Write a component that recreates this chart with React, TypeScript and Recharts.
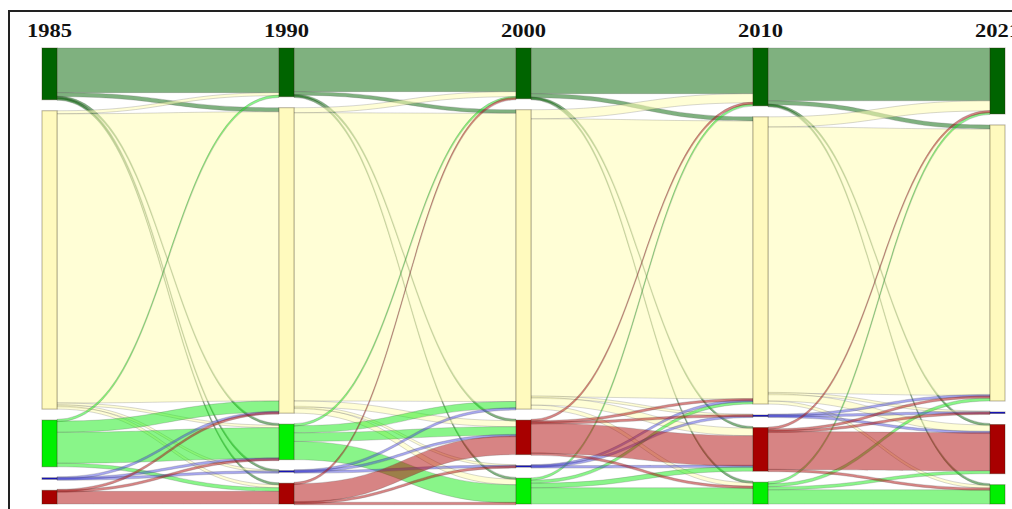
import React from 'react';
import { Sankey } from 'recharts';

// Survey years, one column each
const YEARS = ['1985', '1990', '2000', '2010', '2021'];

// Land-cover classes (row/column order of every transition table below)
const CLASSES = ['Forest', 'Grassland', 'Cropland', 'Water', 'Built-up'];

const NODE_FILL = ['#006400', '#fffabe', '#00f000', '#1414d8', '#a80000'];
const LINK_FILL = [
  'rgba(0,100,0,0.5)',
  'rgba(255,253,180,0.55)',
  'rgba(20,235,20,0.5)',
  'rgba(60,60,220,0.45)',
  'rgba(175,10,10,0.5)',
];

// Vertical order of the classes inside each year's column
const COLUMN_ORDER = [
  [0, 1, 2, 3, 4],
  [0, 1, 2, 3, 4],
  [0, 1, 4, 3, 2],
  [0, 1, 3, 4, 2],
  [0, 1, 3, 4, 2],
];

// Area moving from class (row) to class (column) between two surveys
const FLOW_1985_1990 = [
  [88, 8, 2, 1, 3],
  [6, 570, 5, 1, 6],
  [2, 22, 61, 0, 7],
  [0, 1, 1, 1, 0],
  [0, 1, 1, 0, 25],
];
const FLOW_1990_2000 = [
  [86, 7, 2, 0, 1],
  [10, 568, 11, 1, 12],
  [3, 14, 36, 0, 17],
  [0, 1, 0, 1, 1],
  [1, 0, 2, 1, 37],
];
const FLOW_2000_2010 = [
  [90, 8, 1, 0, 1],
  [18, 548, 8, 1, 15],
  [4, 6, 32, 0, 9],
  [0, 1, 0, 1, 1],
  [2, 3, 2, 1, 60],
];
const FLOW_2010_2021 = [
  [104, 8, 1, 0, 1],
  [20, 525, 6, 1, 14],
  [3, 6, 28, 0, 6],
  [0, 1, 0, 1, 1],
  [3, 4, 3, 1, 75],
];

const PERIODS = [FLOW_1985_1990, FLOW_1990_2000, FLOW_2000_2010, FLOW_2010_2021];

// Build the node / link lists the Sankey layout needs
const nodes: { name: string; cls: number; col: number; first: boolean }[] = [];
const nodeIndex: number[][] = [];
YEARS.forEach((year, col) => {
  nodeIndex[col] = [];
  COLUMN_ORDER[col].forEach((cls, pos) => {
    nodeIndex[col][cls] = nodes.length;
    nodes.push({ name: `${year} ${CLASSES[cls]}`, cls, col, first: pos === 0 });
  });
});

const links: { source: number; target: number; value: number; cls: number }[] = [];
PERIODS.forEach((table, p) => {
  table.forEach((row, from) => {
    row.forEach((value, to) => {
      if (value > 0) {
        links.push({ source: nodeIndex[p][from], target: nodeIndex[p + 1][to], value, cls: from });
      }
    });
  });
});

const data = { nodes, links };

const LandNode = (props: any) => {
  const { x, y, width, height, payload } = props;
  const cls = payload.cls;
  return (
    <g>
      <rect
        x={x}
        y={y}
        width={width}
        height={Math.max(height, 1.5)}
        fill={NODE_FILL[cls]}
        stroke="rgba(40,30,0,0.35)"
        strokeWidth={1}
      />
      {payload.first && (
        <text
          x={x + width / 2}
          y={y - 11}
          textAnchor="middle"
          fontFamily='"Liberation Serif", "Times New Roman", serif'
          fontWeight="bold"
          fontSize={19}
          textLength={45}
          lengthAdjust="spacingAndGlyphs"
          fill="#111"
        >
          {YEARS[payload.col]}
        </text>
      )}
    </g>
  );
};

const LandLink = (props: any) => {
  const { sourceX, targetX, sourceY, targetY, sourceControlX, targetControlX, linkWidth, payload } = props;
  const w = Math.max(linkWidth, 2.5);
  const st = sourceY - w / 2;
  const sb = sourceY + w / 2;
  const tt = targetY - w / 2;
  const tb = targetY + w / 2;
  const d =
    `M${sourceX},${st} C${sourceControlX},${st} ${targetControlX},${tt} ${targetX},${tt} ` +
    `L${targetX},${tb} C${targetControlX},${tb} ${sourceControlX},${sb} ${sourceX},${sb} Z`;
  return (
    <path
      d={d}
      fill={LINK_FILL[payload.cls]}
      stroke="rgba(90,90,90,0.35)"
      strokeWidth={0.7}
    />
  );
};

export default function App() {
  return (
    <div
      style={{
        position: 'fixed',
        left: 0,
        top: 0,
        width: 1012,
        height: 509,
        overflow: 'hidden',
        background: '#fff',
      }}
    >
      <div
        style={{
          position: 'absolute',
          left: 8,
          top: 10,
          width: 1100,
          height: 600,
          border: '2px solid #222',
          boxSizing: 'border-box',
        }}
      />
      <div style={{ position: 'absolute', left: 0, top: 0 }}>
        <Sankey
          width={1012}
          height={509}
          data={data}
          margin={{ top: 48, right: 7, bottom: 5, left: 42 }}
          nodeWidth={15}
          nodePadding={11}
          iterations={0}
          linkCurvature={0.5}
          node={(p: any) => <LandNode {...p} />}
          link={(p: any) => <LandLink {...p} />}
          isAnimationActive={false}
        />
      </div>
    </div>
  );
}
